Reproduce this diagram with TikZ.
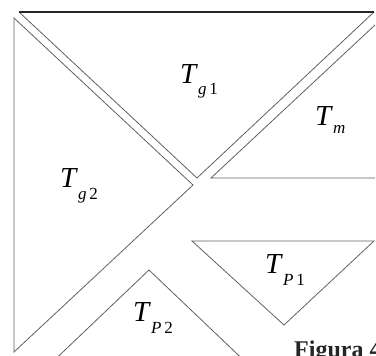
\documentclass[tikz,border=0pt]{standalone}
\usepackage{fontspec}
\setmainfont{Liberation Serif}
\usepackage{tikz}
\usetikzlibrary{positioning,calc}

% piece label: italic T with a lowered subscript
\newcommand{\piece}[2]{\textit{T}\raisebox{-12pt}{\fontsize{17}{17}\selectfont\textit{#1}\,#2}}

\begin{document}
\begin{tikzpicture}[
    x=1pt, y=-1pt,
    edge/.style={draw=black!62, line width=0.8pt, line join=miter},
    topedge/.style={draw=black!85, line width=1.1pt},
    lab/.style={anchor=base west, inner sep=0pt, font=\fontsize{29}{29}\selectfont},
    figcap/.style={anchor=base west, inner sep=0pt, font=\fontsize{24}{24}\selectfont\bfseries}
]
    % frame of the picture
    \clip (0,0) rectangle (376,356);
    \fill[white] (0,0) rectangle (376,356);

    % big triangle on top
    \draw[edge] (374,12) -- (197,178) -- (19,12);
    \draw[topedge] (19,12) -- (374,12);
    \node[lab] (tg1) at (180,83) {\piece{g}{1}};

    % big triangle on the left
    \draw[edge] (14,18) -- (14,352) -- (193,185) -- cycle;
    \node[lab] (tg2) at (60,188) {\piece{g}{2}};

    % middle triangle
    \draw[edge] (375,25) -- (211,178) -- (375,178);
    \node[lab] (tm) at (315,125) {\textit{T}\raisebox{-8pt}{\fontsize{17}{17}\selectfont\textit{m}}};

    % small triangles
    \draw[edge] (192,241) -- (374,241) -- (284,325) -- cycle;
    \node[lab] (tp1) at (265,273) {\piece{P}{1}};

    \draw[edge] (44,370) -- (149,270) -- (254,370);
    \node[lab] (tp2) at (133,322) {\piece{P}{2}};

    % caption, cut by the frame as in the scan
    \node[figcap, text=black!85] (fig) at (294,357) {Figura 4};
\end{tikzpicture}
\end{document}
